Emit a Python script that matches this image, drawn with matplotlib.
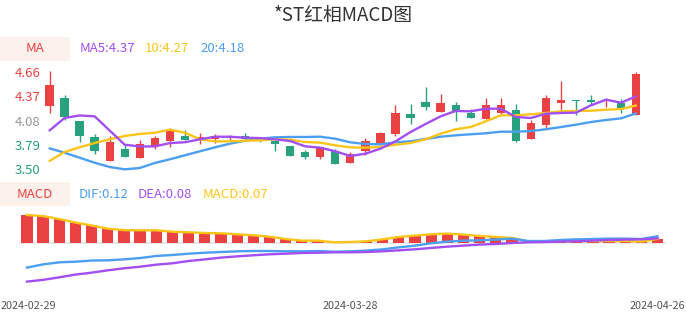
import matplotlib
matplotlib.use("Agg")
import matplotlib.pyplot as plt
from matplotlib.patches import Rectangle

plt.rcParams['font.family'] = ['Noto Sans CJK SC', 'DejaVu Sans']

# ---------------- data ----------------
dates = ['2024-02-29', '2024-03-01', '2024-03-04', '2024-03-05', '2024-03-06', '2024-03-07',
         '2024-03-08', '2024-03-11', '2024-03-12', '2024-03-13', '2024-03-14', '2024-03-15',
         '2024-03-18', '2024-03-19', '2024-03-20', '2024-03-21', '2024-03-22', '2024-03-25',
         '2024-03-26', '2024-03-27', '2024-03-28', '2024-03-29', '2024-04-01', '2024-04-02',
         '2024-04-03', '2024-04-08', '2024-04-09', '2024-04-10', '2024-04-11', '2024-04-12',
         '2024-04-15', '2024-04-16', '2024-04-17', '2024-04-18', '2024-04-19', '2024-04-22',
         '2024-04-23', '2024-04-24', '2024-04-25', '2024-04-26']

opens = [4.25, 4.35, 4.07, 3.88, 3.60, 3.74, 3.63, 3.78, 3.84, 3.90, 3.87, 3.86, 3.870, 3.90,
         3.85, 3.84, 3.78, 3.70, 3.64, 3.72, 3.57, 3.72, 3.79, 3.92, 4.16, 4.30, 4.18, 4.26,
         4.17, 4.10, 4.17, 4.21, 3.86, 4.03, 4.29, 4.325, 4.325, 4.31, 4.29, 4.15]
closes = [4.50, 4.12, 3.89, 3.72, 3.82, 3.64, 3.80, 3.87, 3.95, 3.85, 3.88, 3.90, 3.875, 3.86,
          3.83, 3.80, 3.66, 3.64, 3.76, 3.56, 3.68, 3.84, 3.93, 4.17, 4.11, 4.24, 4.29, 4.18,
          4.11, 4.26, 4.26, 3.84, 4.05, 4.35, 4.32, 4.31, 4.30, 4.325, 4.22, 4.64]
highs = [4.67, 4.39, 4.07, 3.92, 3.90, 3.80, 3.85, 3.90, 3.99, 3.97, 3.93, 3.92, 3.91, 3.93,
         3.85, 3.84, 3.78, 3.73, 3.76, 3.74, 3.70, 3.87, 3.94, 4.26, 4.28, 4.48, 4.40, 4.30,
         4.22, 4.35, 4.35, 4.28, 4.09, 4.38, 4.55, 4.325, 4.39, 4.345, 4.34, 4.66]
lows = [4.17, 4.09, 3.82, 3.68, 3.60, 3.64, 3.63, 3.74, 3.76, 3.85, 3.80, 3.81, 3.83, 3.86,
        3.82, 3.72, 3.65, 3.62, 3.62, 3.56, 3.57, 3.67, 3.79, 3.89, 4.04, 4.21, 4.18, 4.08,
        4.11, 4.10, 4.14, 3.82, 3.86, 3.99, 4.19, 4.14, 4.27, 4.245, 4.17, 4.15]

ma5 = [3.96, 4.11, 4.14, 4.13, 3.96, 3.79, 3.77, 3.77, 3.81, 3.82, 3.855, 3.886, 3.886, 3.874,
       3.87, 3.855, 3.835, 3.771, 3.755, 3.712, 3.655, 3.683, 3.743, 3.831, 3.942, 4.038, 4.13,
       4.194, 4.19, 4.221, 4.221, 4.122, 4.11, 4.161, 4.17, 4.174, 4.262, 4.329, 4.293, 4.37]
ma10 = [3.596, 3.703, 3.759, 3.811, 3.855, 3.895, 3.919, 3.934, 3.97, 3.934, 3.855, 3.831, 3.831,
        3.838, 3.843, 3.855, 3.85, 3.823, 3.815, 3.783, 3.759, 3.755, 3.763, 3.79, 3.811, 3.855,
        3.922, 3.975, 4.002, 4.07, 4.142, 4.142, 4.154, 4.17, 4.19, 4.194, 4.197, 4.209, 4.217, 4.26]
ma20 = [3.747, 3.695, 3.635, 3.575, 3.524, 3.496, 3.512, 3.572, 3.616, 3.664, 3.712, 3.759, 3.803,
        3.838, 3.862, 3.879, 3.883, 3.883, 3.886, 3.862, 3.819, 3.799, 3.795, 3.819, 3.831, 3.859,
        3.886, 3.903, 3.915, 3.927, 3.946, 3.946, 3.954, 3.975, 4.002, 4.03, 4.062, 4.086, 4.106, 4.165]

macd = [0.48, 0.46, 0.41, 0.35, 0.30, 0.245, 0.22, 0.217, 0.217, 0.193, 0.183, 0.171, 0.166,
        0.149, 0.132, 0.108, 0.068, 0.04, 0.04, 0.012, 0.017, 0.029, 0.063, 0.103, 0.127, 0.149,
        0.161, 0.144, 0.12, 0.103, 0.086, 0.029, 0.024, 0.029, 0.034, 0.034, 0.034, 0.034, 0.024, 0.07]
dif = [-0.42, -0.366, -0.33, -0.32, -0.30, -0.296, -0.28, -0.257, -0.222, -0.205, -0.183, -0.166,
       -0.154, -0.142, -0.137, -0.137, -0.142, -0.142, -0.137, -0.149, -0.142, -0.13, -0.108,
       -0.074, -0.045, -0.005, 0.024, 0.041, 0.046, 0.058, 0.075, 0.034, 0.034, 0.051, 0.063,
       0.068, 0.075, 0.075, 0.068, 0.115]
dea = [-0.66, -0.63, -0.587, -0.54, -0.507, -0.467, -0.433, -0.405, -0.37, -0.347, -0.308, -0.28,
       -0.25, -0.228, -0.21, -0.193, -0.183, -0.171, -0.166, -0.159, -0.159, -0.154, -0.142,
       -0.125, -0.108, -0.085, -0.062, -0.045, -0.027, -0.017, 0.0, 0.012, 0.017, 0.024, 0.029,
       0.041, 0.051, 0.058, 0.063, 0.08]

yticks = [3.50, 3.79, 4.08, 4.37, 4.66]
ytick_colors = ['#26a17b', '#26a17b', '#999999', '#e84142', '#e84142']
xtick_idx = [0, 20, 39]

title = '*ST红相MACD图'
ma_legend = [('MA5:4.37', '#a24ff2'), ('10:4.27', '#fcc419'), ('20:4.18', '#4c9ff0')]
macd_legend = [('DIF:0.12', '#4c9ff0'), ('DEA:0.08', '#a24ff2'), ('MACD:0.07', '#fcc419')]

# ---------------- styling ----------------
RED = '#ea4143'
GREEN = '#27a17e'
PURPLE = '#a24ff2'
YELLOW = '#fcc419'
BLUE = '#4c9ff0'

W, H = 686, 320
fig = plt.figure(figsize=(W / 100, H / 100), dpi=100)


def rect(l, t, r, b):
    return [l / W, 1 - b / H, (r - l) / W, (b - t) / H]


def fx(px):
    return px / W


def fy(py):
    return 1 - py / H


fig.text(fx(343), fy(15), title, ha='center', va='center', fontsize=13.5, color='#333333')

# legend boxes
fig.patches.append(Rectangle((0, fy(61)), fx(70), (61 - 37) / H, transform=fig.transFigure,
                             facecolor='#fdf1ec', edgecolor='none'))
fig.text(fx(35), fy(49), 'MA', ha='center', va='center', fontsize=9.5, color=RED)
for (txt, col), xp in zip(ma_legend, [80, 145, 200]):
    fig.text(fx(xp), fy(49), txt, ha='left', va='center', fontsize=9.5, color=col)

fig.patches.append(Rectangle((0, fy(206)), fx(70), (206 - 182) / H, transform=fig.transFigure,
                             facecolor='#fdf1ec', edgecolor='none'))
fig.text(fx(35), fy(194), 'MACD', ha='center', va='center', fontsize=9.5, color=RED)
for (txt, col), xp in zip(macd_legend, [79, 138, 203]):
    fig.text(fx(xp), fy(194), txt, ha='left', va='center', fontsize=9.5, color=col)

# ---------------- candle panel ----------------
n = len(closes)
idx = list(range(n))
step = 0.011959
ax = fig.add_axes(rect(41.98, 62, 643.7, 175))
ax.set_xlim(-0.5, n - 0.5)
ax.set_ylim(3.50 - 6 * step, 4.66 + 10 * step)
for s in ax.spines.values():
    s.set_visible(False)
ax.set_xticks([])
ax.set_yticks(yticks)
ax.set_yticklabels([f'{v:.2f}' for v in yticks], fontsize=9.5)
for lab, c in zip(ax.get_yticklabels(), ytick_colors):
    lab.set_color(c)
ax.tick_params(axis='y', length=0, pad=1)
ax.patch.set_alpha(0)

colors = [RED if c >= o else GREEN for o, c in zip(opens, closes)]
ax.vlines(idx, lows, highs, colors=colors, linewidth=1.0, zorder=2)
bottoms = [min(o, c) for o, c in zip(opens, closes)]
heights = [max(abs(c - o), 0.012) for o, c in zip(opens, closes)]
ax.bar(idx, heights, bottom=bottoms, width=0.55, color=colors, zorder=3, linewidth=0)

ax.plot(idx, ma20, color=BLUE, lw=1.7, zorder=4, solid_capstyle='round', solid_joinstyle='round')
ax.plot(idx, ma10, color=YELLOW, lw=1.7, zorder=4, solid_capstyle='round', solid_joinstyle='round')
ax.plot(idx, ma5, color=PURPLE, lw=1.7, zorder=5, solid_capstyle='round', solid_joinstyle='round')

# ---------------- MACD panel ----------------
mstep = 0.0171
ax2 = fig.add_axes(rect(18.9, 205, 665.6, 290))
ax2.set_xlim(-0.5, n - 0.5)
ax2.set_ylim(-(290 - 243) * mstep, (243 - 205) * mstep)
ax2.axis('off')
ax2.axhline(0, color='#e6e6e6', lw=1.2, zorder=1)
bar_colors = [RED if v >= 0 else GREEN for v in macd]
ax2.bar(idx, macd, width=0.7, color=bar_colors, zorder=2, linewidth=0)
ax2.plot(idx, macd, color=YELLOW, lw=1.7, zorder=3, solid_joinstyle='round')
ax2.plot(idx, dif, color=BLUE, lw=1.7, zorder=4, solid_joinstyle='round')
ax2.plot(idx, dea, color=PURPLE, lw=1.7, zorder=4, solid_joinstyle='round')

# x labels: ends kept inside the canvas
label_pos = [(1, 'left'), (27 + 16.167 * 20, 'center'), (685, 'right')]
for i, (xp, ha) in zip(xtick_idx, label_pos):
    fig.text(fx(xp), fy(306), dates[i], ha=ha, va='center', fontsize=7.8, color='#555555')

fig.savefig('out.png', dpi=100)
